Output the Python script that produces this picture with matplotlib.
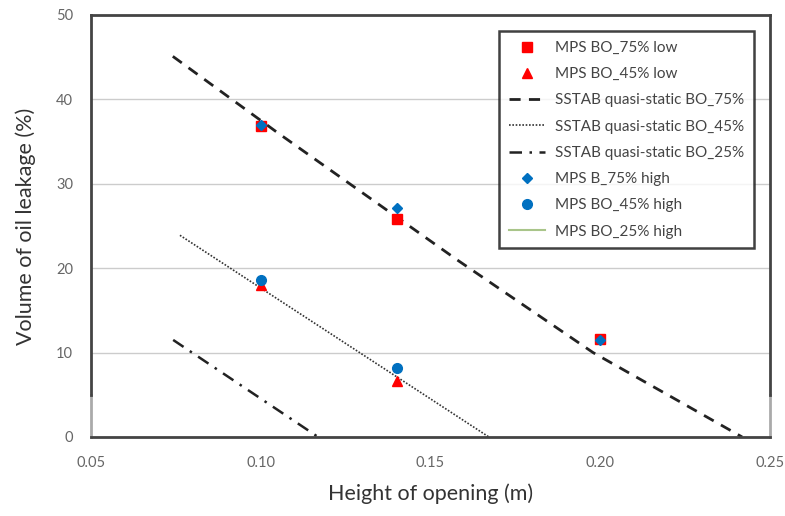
import matplotlib
matplotlib.use("Agg")
import matplotlib.pyplot as plt

# marker data
x_low75 = [0.10, 0.14, 0.20]
y_low75 = [36.9, 25.8, 11.6]
x_low45 = [0.10, 0.14]
y_low45 = [18.0, 6.6]
x_high75 = [0.10, 0.14, 0.20]
y_high75 = [37.0, 27.1, 11.5]
x_high45 = [0.10, 0.14]
y_high45 = [18.6, 8.2]

# SSTAB quasi-static curves
x_ss75 = [0.0741, 0.1048, 0.1578, 0.1979, 0.2418]
y_ss75 = [45.1, 36.1, 21.0, 10.0, 0.0]
x_ss45 = [0.0762, 0.1672]
y_ss45 = [23.9, 0.0]
x_ss25 = [0.0742, 0.1169]
y_ss25 = [11.5, 0.0]

xticks = [0.05, 0.10, 0.15, 0.20, 0.25]
yticks = [0, 10, 20, 30, 40, 50]

plt.rcParams["font.family"] = ["Lato", "DejaVu Sans"]

fig = plt.figure(figsize=(7.85, 5.16), dpi=100)
ax = fig.add_axes([91 / 785, 1 - 437 / 516, 679 / 785, 422 / 516])

red = "#FF0000"
blue = "#0070C0"

ax.plot(x_low75, y_low75, "s", color=red, ms=7, label="MPS BO_75% low", zorder=3)
ax.plot(x_low45, y_low45, "^", color=red, ms=7, label="MPS BO_45% low", zorder=3)
ax.plot(x_ss75, y_ss75, color="#222222", lw=2, ls=(0, (4, 3)),
        label="SSTAB quasi-static BO_75%", zorder=2)
ax.plot(x_ss45, y_ss45, color="#333333", lw=1.2, ls=(0, (1, 1)),
        label="SSTAB quasi-static BO_45%", zorder=2)
ax.plot(x_ss25, y_ss25, color="#222222", lw=1.8, ls=(0, (5, 3, 1, 3)),
        label="SSTAB quasi-static BO_25%", zorder=2)
ax.plot(x_high75, y_high75, "D", color=blue, ms=5, label="MPS B_75% high", zorder=4)
ax.plot(x_high45, y_high45, "o", color=blue, ms=7, label="MPS BO_45% high", zorder=4)
ax.plot([], [], color="#A9C58A", lw=1.5, label="MPS BO_25% high")

ax.set_xlim(0.05, 0.25)
ax.set_ylim(0, 50)
ax.set_xticks(xticks)
ax.set_xticklabels([f"{v:.2f}" for v in xticks])
ax.set_yticks(yticks)
ax.tick_params(length=0, labelsize=10.5, labelcolor="#666666")
ax.tick_params(axis="x", pad=14)
ax.tick_params(axis="y", pad=13)
ax.yaxis.grid(True, color="#cccccc", lw=1)
ax.set_axisbelow(True)

for s in ax.spines.values():
    s.set_color("#444444")
    s.set_linewidth(2)
ax.spines["left"].set_bounds(5, 50)
ax.spines["right"].set_bounds(5, 50)
ax.plot([0.05, 0.05], [0, 5], color="#aaaaaa", lw=2, clip_on=False, zorder=1)
ax.plot([0.25, 0.25], [0, 5], color="#aaaaaa", lw=2, clip_on=False, zorder=1)

ax.set_xlabel("Height of opening (m)", fontsize=15.5, color="#333333", labelpad=9)
ax.set_ylabel("Volume of oil leakage (%)", fontsize=15.5, color="#333333", labelpad=14)

leg = ax.legend(loc="upper right", bbox_to_anchor=(0.976, 0.962), fontsize=11,
                frameon=True, fancybox=False, labelspacing=0.8,
                handlelength=2.4, handletextpad=0.6, borderpad=0.65,
                borderaxespad=0, labelcolor="#444444")
leg.get_frame().set_edgecolor("#111111")
leg.get_frame().set_linewidth(1.8)

fig.savefig("out.png", dpi=100)
